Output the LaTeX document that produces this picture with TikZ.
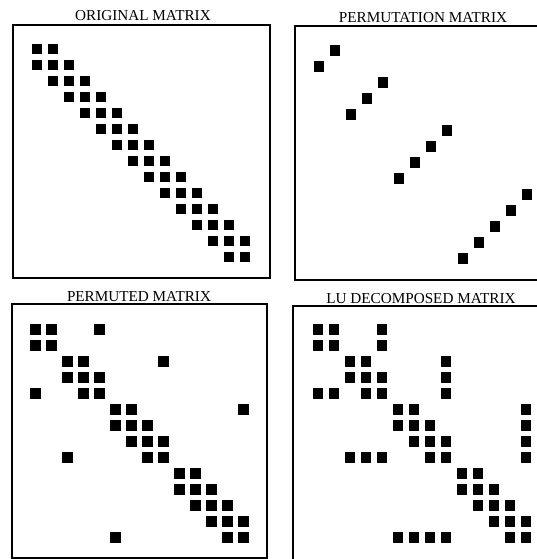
\documentclass[tikz,border=0pt]{standalone}
\usepackage{fontspec}
\setmainfont{Liberation Serif}
\begin{document}
\begin{tikzpicture}[x=1pt,y=-1pt,
  panel/.style={line width=1.4pt},
  ttl/.style={font=\fontsize{15.2}{16}\selectfont, anchor=base, inner sep=0pt}]
\useasboundingbox (0,0) rectangle (537,559);
% titles
\node[ttl] (t1) at (143,21) {ORIGINAL MATRIX};
\node[ttl] (t2) at (423,23) {PERMUTATION MATRIX};
\node[ttl] (t3) at (139,301) {PERMUTED MATRIX};
\node[ttl] (t4) at (421,303) {LU DECOMPOSED MATRIX};
% frames
\draw[panel] (13,25) rectangle (270,278);
\draw[panel] (537,26) -- (295,26) -- (295,280) -- (537,280);
\draw[panel] (12,304) rectangle (267,558);
\draw[panel] (537,306) -- (293,306) -- (293,559);
% original matrix (tridiagonal)
\begin{scope}[shift={(37,49)}]
  \foreach \r in {0,...,13}{
    \foreach \d in {-1,0,1}{
      \pgfmathtruncatemacro{\c}{\r+\d}
      \ifnum\c>-1 \ifnum\c<14
        \fill ({\c*16-5.4},{\r*16-5.4}) rectangle ++(10.8,10.8);
      \fi\fi
    }
  }
\end{scope}
% permutation matrix
\begin{scope}[shift={(319,50.5)}]
  \foreach \r/\c in {1/0,0/1,4/2,3/3,2/4,8/5,7/6,6/7,5/8,13/9,12/10,11/11,10/12,9/13}
    \fill ({\c*16-5.4},{\r*16-5.4}) rectangle ++(10.8,10.8);
\end{scope}
% permuted matrix
\begin{scope}[shift={(35.5,329.5)}]
  \foreach \r/\cols in {0/{0,1,4},1/{0,1},2/{2,3,8},3/{2,3,4},4/{0,3,4},5/{5,6,13},6/{5,6,7},7/{6,7,8},8/{2,7,8},9/{9,10},10/{9,10,11},11/{10,11,12},12/{11,12,13},13/{5,12,13}}
    \foreach \c in \cols
      \fill ({\c*16-5.4},{\r*16-5.4}) rectangle ++(10.8,10.8);
\end{scope}
% LU decomposed matrix
\begin{scope}[shift={(318,329.7)}]
  \foreach \r/\cols in {0/{0,1,4},1/{0,1,4},2/{2,3,8},3/{2,3,4,8},4/{0,1,3,4,8},5/{5,6,13},6/{5,6,7,13},7/{6,7,8,13},8/{2,3,4,7,8,13},9/{9,10},10/{9,10,11},11/{10,11,12},12/{11,12,13},13/{5,6,7,8,12,13}}
    \foreach \c in \cols
      \fill ({\c*16-5.4},{\r*16-5.4}) rectangle ++(10.8,10.8);
\end{scope}
\end{tikzpicture}
\end{document}
